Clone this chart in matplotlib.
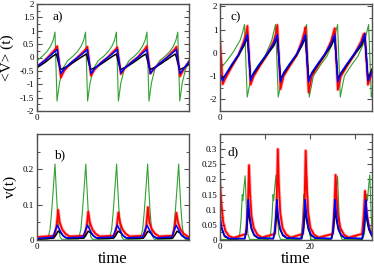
import matplotlib
matplotlib.use("Agg")
import matplotlib.pyplot as plt
from matplotlib.ticker import MultipleLocator, FixedLocator

plt.rcParams['font.family'] = ['Liberation Serif', 'DejaVu Serif']
plt.rcParams['axes.unicode_minus'] = False

GREEN = '#33a033'
RED = '#ff0000'
BLUE = '#0000ff'
BLACK = '#000000'

# ---------------- panel a : <V>(t) ----------------
green_a_t = [0, 1.2, 2.2, 3.0, 3.6, 4.0, 4.45, 5.0, 5.8, 6.8,
             8.0, 9.0, 9.8, 10.4, 10.8, 11.25, 11.8, 12.6, 13.6,
             14.85, 15.85, 16.65, 17.25, 17.65, 18.1, 18.65, 19.45, 20.45,
             21.65, 22.65, 23.45, 24.05, 24.45, 24.9, 25.45, 26.25, 27.25,
             28.5, 29.5, 30.3, 30.9, 31.3, 31.75, 32.3, 33.1, 33.8]
green_a_v = [-0.12, 0.05, 0.22, 0.42, 0.65, 0.95, -1.63, -0.95, -0.4, -0.12,
             0.05, 0.22, 0.42, 0.65, 0.95, -1.63, -0.95, -0.4, -0.12,
             0.05, 0.22, 0.42, 0.65, 0.95, -1.63, -0.95, -0.4, -0.12,
             0.05, 0.22, 0.42, 0.65, 0.95, -1.63, -0.95, -0.4, -0.12,
             0.05, 0.22, 0.42, 0.65, 0.95, -1.63, -0.95, -0.4, -0.2]
red_a_t = [0, 1.8, 3.5, 4.1, 4.5, 5.3, 6.1, 7.5, 9.0,
           10.2, 10.8, 11.2, 12.0, 12.8, 14.2, 15.7,
           16.85, 17.45, 17.85, 18.65, 19.45, 20.85, 22.35,
           23.4, 24.0, 24.4, 25.2, 26.0, 27.4, 28.9,
           30.0, 30.6, 31.0, 31.8, 32.6, 33.8]
red_a_v = [-0.35, -0.1, 0.2, 0.32, 0.42, -0.75, -0.48, -0.22, 0.0,
           0.2, 0.3, 0.4, -0.68, -0.45, -0.2, 0.0,
           0.2, 0.3, 0.38, -0.62, -0.42, -0.2, 0.0,
           0.2, 0.32, 0.42, -0.6, -0.42, -0.2, 0.0,
           0.2, 0.3, 0.4, -0.7, -0.45, -0.15]
blue_a_t = red_a_t
blue_a_v = [-0.33, -0.1, 0.15, 0.24, 0.3, -0.6, -0.42, -0.2, 0.0,
            0.15, 0.24, 0.3, -0.6, -0.42, -0.2, 0.0,
            0.15, 0.24, 0.3, -0.58, -0.4, -0.2, 0.0,
            0.15, 0.24, 0.3, -0.6, -0.42, -0.2, 0.0,
            0.15, 0.24, 0.3, -0.6, -0.42, -0.15]
black_a_t = [0, 1.8, 3.5, 4.0, 4.3, 5.2, 6.2, 7.5, 9.0,
             10.2, 10.7, 11.0, 11.9, 12.9, 14.2, 15.7,
             16.85, 17.35, 17.65, 18.55, 19.55, 20.85, 22.35,
             23.4, 23.9, 24.2, 25.1, 26.1, 27.4, 28.9,
             30.0, 30.5, 30.8, 31.7, 32.7, 33.8]
black_a_v = [-0.38, -0.18, 0.05, 0.1, 0.13, -0.45, -0.38, -0.25, -0.08,
             0.05, 0.1, 0.13, -0.45, -0.38, -0.25, -0.08,
             0.05, 0.1, 0.13, -0.45, -0.38, -0.25, -0.08,
             0.05, 0.1, 0.13, -0.45, -0.38, -0.25, -0.08,
             0.05, 0.1, 0.13, -0.45, -0.38, -0.25]

# ---------------- panel c : <V>(t) ----------------
green_c_t = [0, 1.5, 3.0, 4.5, 5.05, 5.45, 6.05, 6.95, 8.45, 9.95, 11.45, 11.95,
             12.35, 12.95, 13.85, 15.35, 16.85, 18.35, 18.85,
             19.25, 19.85, 20.75, 22.25, 23.75, 25.25, 25.75,
             26.15, 26.75, 27.65, 29.15, 30.65, 32.15, 32.65,
             33.05, 33.65, 33.8]
green_c_v = [-0.7, -0.35, 0.05, 0.55, 0.9, 1.22, -1.9, -1.0, -0.55, -0.15, 0.5, 0.9,
             1.22, -1.9, -1.0, -0.55, -0.15, 0.5, 0.9,
             1.22, -1.9, -1.0, -0.55, -0.15, 0.5, 0.9,
             1.22, -1.9, -1.0, -0.55, -0.15, 0.5, 0.9,
             1.22, -1.9, -1.75]
red_c_t = [0, 0.6, 1.2, 2.6, 4.1, 5.3, 5.8, 6.1, 6.8, 7.5, 8.9, 10.4, 11.95, 12.45,
           12.75, 13.45, 14.15, 15.55, 17.05, 18.2, 18.7,
           19.0, 19.7, 20.4, 21.8, 23.3, 24.7, 25.2,
           25.5, 26.2, 26.9, 28.3, 29.8, 31.4, 31.9,
           32.2, 32.9, 33.8]
red_c_v = [0.6, -1.35, -1.1, -0.6, -0.1, 0.5, 0.85, 1.16, -1.37, -1.0, -0.55, -0.1, 0.5, 0.85,
           1.2, -1.56, -1.0, -0.55, -0.1, 0.5, 0.85,
           1.1, -1.7, -1.0, -0.55, -0.1, 0.5, 0.85,
           1.06, -1.59, -1.0, -0.55, -0.1, 0.5, 0.8,
           0.84, -1.37, -0.85]
blue_c_t = red_c_t
blue_c_v = [-0.9, -1.2, -0.95, -0.5, -0.08, 0.4, 0.65, 0.8, -1.2, -0.85, -0.45, -0.05, 0.4, 0.65,
            0.78, -1.25, -0.85, -0.45, -0.05, 0.4, 0.65,
            0.78, -1.25, -0.85, -0.45, -0.05, 0.4, 0.65,
            0.8, -1.25, -0.85, -0.45, -0.05, 0.4, 0.65,
            0.82, -1.2, -0.8]
black_c_t = red_c_t
black_c_v = [-0.95, -1.1, -0.95, -0.55, -0.12, 0.3, 0.52, 0.65, -1.1, -0.9, -0.5, -0.1, 0.3, 0.52,
             0.65, -1.1, -0.9, -0.5, -0.1, 0.3, 0.52,
             0.65, -1.1, -0.9, -0.5, -0.1, 0.3, 0.52,
             0.65, -1.1, -0.9, -0.5, -0.1, 0.3, 0.52,
             0.65, -1.1, -0.7]

# ---------------- panel b : v(t) ----------------
green_b_t = [0, 2.4, 2.9, 3.25, 3.65, 4.0, 4.25, 4.5, 4.8, 5.1, 5.5,
             9.25, 9.75, 10.1, 10.5, 10.85, 11.1, 11.35, 11.65, 11.95, 12.35,
             16.1, 16.6, 16.95, 17.35, 17.7, 17.95, 18.2, 18.5, 18.8, 19.2,
             23.0, 23.5, 23.85, 24.25, 24.6, 24.85, 25.1, 25.4, 25.7, 26.1,
             29.9, 30.4, 30.75, 31.15, 31.5, 31.75, 32.0, 32.3, 32.6, 33.0, 33.8]
green_b_v = [0.002, 0.003, 0.03, 0.08, 0.15, 0.215, 0.15, 0.09, 0.04, 0.01, 0.002,
             0.003, 0.03, 0.08, 0.15, 0.215, 0.15, 0.09, 0.04, 0.01, 0.002,
             0.003, 0.03, 0.08, 0.15, 0.215, 0.15, 0.09, 0.04, 0.01, 0.002,
             0.003, 0.03, 0.08, 0.15, 0.215, 0.15, 0.09, 0.04, 0.01, 0.002,
             0.003, 0.03, 0.08, 0.15, 0.215, 0.15, 0.09, 0.04, 0.01, 0.002, 0.002]
red_b_t = [0, 3.9, 4.35, 4.7, 5.05, 5.6, 6.3, 7.2,
           10.6, 11.05, 11.4, 11.75, 12.3, 13.0, 13.9,
           17.3, 17.75, 18.1, 18.45, 19.0, 19.7, 20.6,
           23.85, 24.3, 24.65, 25.0, 25.55, 26.25, 27.15,
           30.2, 30.65, 31.0, 31.35, 31.9, 32.6, 33.5, 33.8]
red_b_v = [0.008, 0.012, 0.04, 0.085, 0.05, 0.03, 0.018, 0.01,
           0.012, 0.04, 0.08, 0.05, 0.03, 0.018, 0.01,
           0.012, 0.04, 0.078, 0.05, 0.03, 0.018, 0.01,
           0.012, 0.04, 0.093, 0.05, 0.03, 0.018, 0.01,
           0.012, 0.04, 0.077, 0.05, 0.03, 0.018, 0.01, 0.008]
blue_b_t = [0, 3.5, 4.0, 4.5, 5.0, 5.7, 6.5,
            10.2, 10.7, 11.2, 11.7, 12.4, 13.2,
            16.85, 17.35, 17.85, 18.35, 19.05, 19.85,
            23.45, 23.95, 24.45, 24.95, 25.65, 26.45,
            29.95, 30.45, 30.95, 31.45, 32.15, 32.95, 33.8]
blue_b_v = [0.004, 0.008, 0.025, 0.042, 0.03, 0.013, 0.006,
            0.008, 0.025, 0.042, 0.03, 0.013, 0.006,
            0.008, 0.025, 0.042, 0.03, 0.013, 0.006,
            0.008, 0.025, 0.042, 0.03, 0.013, 0.006,
            0.008, 0.025, 0.042, 0.03, 0.013, 0.006, 0.004]
black_b_t = [0, 3.7, 4.2, 4.7, 5.3, 6.0, 6.9,
             10.4, 10.9, 11.4, 12.0, 12.7, 13.6,
             17.05, 17.55, 18.05, 18.65, 19.35, 20.25,
             23.65, 24.15, 24.65, 25.25, 25.95, 26.85,
             30.15, 30.65, 31.15, 31.75, 32.45, 33.35, 33.8]
black_b_v = [0.002, 0.005, 0.014, 0.025, 0.02, 0.01, 0.004,
             0.005, 0.014, 0.025, 0.02, 0.01, 0.004,
             0.005, 0.014, 0.025, 0.02, 0.01, 0.004,
             0.005, 0.014, 0.025, 0.02, 0.01, 0.004,
             0.005, 0.014, 0.025, 0.02, 0.01, 0.004, 0.003]

# ---------------- panel d : v(t) ----------------
green_d_t = [0, 4.0, 4.4, 4.7, 4.95, 5.1, 5.3, 5.6, 5.9, 6.2, 6.6,
             10.85, 11.25, 11.55, 11.8, 11.95, 12.15, 12.45, 12.75, 13.05, 13.45,
             17.7, 18.1, 18.4, 18.65, 18.8, 19.0, 19.3, 19.6, 19.9, 20.3,
             24.55, 24.95, 25.25, 25.5, 25.65, 25.85, 26.15, 26.45, 26.75, 27.15,
             31.7, 32.1, 32.4, 32.65, 32.8, 33.0, 33.3, 33.6, 33.8]
green_d_v = [0.002, 0.002, 0.02, 0.07, 0.15, 0.13, 0.17, 0.212, 0.09, 0.02, 0.002,
             0.002, 0.02, 0.07, 0.15, 0.13, 0.17, 0.215, 0.09, 0.02, 0.002,
             0.002, 0.02, 0.07, 0.15, 0.13, 0.17, 0.21, 0.09, 0.02, 0.002,
             0.002, 0.02, 0.07, 0.15, 0.13, 0.17, 0.21, 0.09, 0.02, 0.002,
             0.002, 0.02, 0.07, 0.15, 0.13, 0.17, 0.215, 0.09, 0.03]
red_d_t = [0, 0.3, 0.7, 1.2, 2.0, 3.0,
           5.8, 6.2, 6.45, 6.7, 7.0, 7.5, 8.3, 9.3,
           12.2, 12.6, 12.85, 13.1, 13.4, 13.9, 14.7, 15.7,
           18.4, 18.8, 19.05, 19.3, 19.6, 20.1, 20.9, 21.9,
           25.05, 25.45, 25.7, 25.95, 26.25, 26.75, 27.55, 28.55,
           31.6, 32.0, 32.25, 32.5, 32.8, 33.3, 33.8]
red_d_v = [0.19, 0.12, 0.06, 0.03, 0.013, 0.007,
           0.02, 0.11, 0.247, 0.15, 0.08, 0.04, 0.018, 0.008,
           0.02, 0.12, 0.30, 0.18, 0.09, 0.04, 0.018, 0.008,
           0.02, 0.12, 0.295, 0.18, 0.09, 0.04, 0.018, 0.008,
           0.02, 0.11, 0.215, 0.14, 0.08, 0.04, 0.018, 0.008,
           0.02, 0.09, 0.162, 0.11, 0.07, 0.035, 0.02]
blue_d_t = [0, 0.4, 1.0, 2.0,
            5.5, 5.9, 6.15, 6.3, 6.6, 7.0, 7.6, 8.5,
            11.85, 12.25, 12.5, 12.65, 12.95, 13.35, 13.95, 14.85,
            18.15, 18.55, 18.8, 18.95, 19.25, 19.65, 20.25, 21.15,
            24.8, 25.2, 25.45, 25.6, 25.9, 26.3, 26.9, 27.8,
            31.6, 32.0, 32.25, 32.4, 32.7, 33.1, 33.8]
blue_d_v = [0.08, 0.04, 0.015, 0.005,
            0.005, 0.04, 0.1, 0.133, 0.08, 0.04, 0.018, 0.007,
            0.005, 0.04, 0.1, 0.133, 0.08, 0.04, 0.018, 0.007,
            0.005, 0.04, 0.1, 0.133, 0.08, 0.04, 0.018, 0.007,
            0.005, 0.04, 0.1, 0.133, 0.08, 0.04, 0.018, 0.007,
            0.005, 0.04, 0.1, 0.133, 0.08, 0.04, 0.015]
black_d_t = blue_d_t
black_d_v = [0.065, 0.035, 0.012, 0.004,
             0.004, 0.03, 0.075, 0.1, 0.065, 0.035, 0.015, 0.006,
             0.004, 0.03, 0.075, 0.1, 0.065, 0.035, 0.015, 0.006,
             0.004, 0.03, 0.075, 0.1, 0.065, 0.035, 0.015, 0.006,
             0.004, 0.03, 0.075, 0.1, 0.065, 0.035, 0.015, 0.006,
             0.004, 0.03, 0.075, 0.1, 0.065, 0.035, 0.012]

panel_labels = ['a)', 'b)', 'c)', 'd)']
ylabel_top = '<V> (t)'
ylabel_bottom = 'v(t)'
xlabel = 'time'
XMAX = 33.8

W, H = 374, 267
fig = plt.figure(figsize=(W / 100, H / 100), dpi=100)


def make_axes(l, t, r, b):
    return fig.add_axes([l / W, 1 - b / H, (r - l) / W, (b - t) / H])


ax_a = make_axes(37, 4, 189, 111)
ax_c = make_axes(220, 4, 372, 111)
ax_b = make_axes(37, 134, 189, 240)
ax_d = make_axes(220, 134, 372, 240)

FRAME = '#505050'
for ax in (ax_a, ax_b, ax_c, ax_d):
    for s in ax.spines.values():
        s.set_color(FRAME)
        s.set_linewidth(1.0)
    ax.tick_params(which='both', direction='in', top=True, right=True,
                   color=FRAME, labelsize=6.5, pad=2)
    ax.tick_params(which='major', length=3.5, width=0.8)
    ax.tick_params(which='minor', length=2, width=0.7)
    ax.set_xlim(0, XMAX)


def draw(ax, series, fuzz):
    for t, v, c, lw in series:
        if c == RED and fuzz:
            ax.plot(t, v, color=c, lw=lw + 1.2, alpha=0.3, solid_joinstyle='round')
        ax.plot(t, v, color=c, lw=lw, solid_joinstyle='round')


draw(ax_a, [(green_a_t, green_a_v, GREEN, 0.8), (red_a_t, red_a_v, RED, 1.2),
            (black_a_t, black_a_v, BLACK, 1.1), (blue_a_t, blue_a_v, BLUE, 1.1)], True)
draw(ax_c, [(green_c_t, green_c_v, GREEN, 0.8), (red_c_t, red_c_v, RED, 1.2),
            (black_c_t, black_c_v, BLACK, 1.1), (blue_c_t, blue_c_v, BLUE, 1.1)], True)
draw(ax_b, [(green_b_t, green_b_v, GREEN, 0.8), (red_b_t, red_b_v, RED, 1.3),
            (black_b_t, black_b_v, BLACK, 1.1), (blue_b_t, blue_b_v, BLUE, 1.1)], True)
draw(ax_d, [(green_d_t, green_d_v, GREEN, 0.8), (red_d_t, red_d_v, RED, 1.3),
            (black_d_t, black_d_v, BLACK, 1.1), (blue_d_t, blue_d_v, BLUE, 1.1)], True)

# y axes
ax_a.set_ylim(-2, 2)
ax_a.set_yticks([-2, -1.5, -1, -0.5, 0, 0.5, 1, 1.5, 2])
ax_a.set_yticklabels(['-2', '-1.5', '-1', '-0.5', '0', '0.5', '1', '1.5', '2'])
ax_a.yaxis.set_minor_locator(MultipleLocator(0.25))

ax_c.set_ylim(-2.5, 2.1)
ax_c.set_yticks([-2, -1, 0, 1, 2])
ax_c.set_yticklabels(['-2', '-1', '0', '1', '2'])
ax_c.yaxis.set_minor_locator(FixedLocator([-2.5, -1.5, -0.5, 0.5, 1.5]))

ax_b.set_ylim(0, 0.3)
ax_b.set_yticks([0, 0.1, 0.2])
ax_b.set_yticklabels(['0', '0.1', '0.2'])
ax_b.yaxis.set_minor_locator(FixedLocator([0.05, 0.15, 0.25]))

ax_d.set_ylim(0, 0.35)
ax_d.set_yticks([0, 0.05, 0.1, 0.15, 0.2, 0.25, 0.3])
ax_d.set_yticklabels(['0', '0.05', '0.1', '0.15', '0.2', '0.25', '0.3'])
ax_d.yaxis.set_minor_locator(MultipleLocator(0.025))

# x axes
for ax in (ax_a, ax_b, ax_c):
    ax.set_xticks([0])
    ax.set_xticklabels(['0'])
ax_d.set_xticks([0, 10, 20, 30])
ax_d.set_xticklabels(['0', '', '20', ''])

# labels
ax_a.set_ylabel(ylabel_top, fontsize=11, labelpad=4)
ax_b.set_ylabel(ylabel_bottom, fontsize=11, labelpad=4)
ax_b.set_xlabel(xlabel, fontsize=12, labelpad=0)
ax_d.set_xlabel(xlabel, fontsize=12, labelpad=0)
for ax, lab, (x, y) in zip((ax_a, ax_b, ax_c, ax_d), panel_labels,
                           [(0.105, 0.88), (0.11, 0.8), (0.066, 0.88), (0.05, 0.83)]):
    ax.text(x, y, lab, transform=ax.transAxes, fontsize=9.5, va='center', ha='left')

fig.savefig('out.png', dpi=100)
